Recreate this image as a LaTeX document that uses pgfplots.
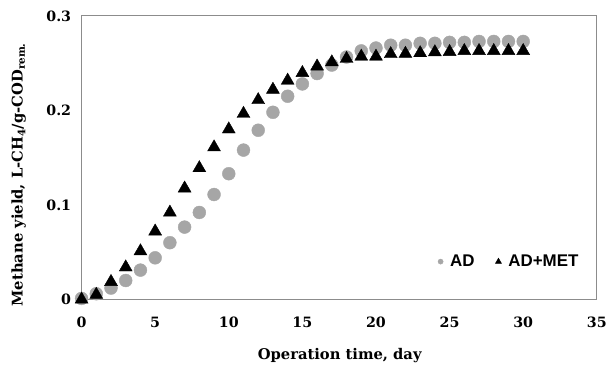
\documentclass[border=0pt]{standalone}
\usepackage{fontspec}
\setmainfont{DejaVu Serif}
\newfontfamily\legfont{Liberation Sans}
\usepackage{pgfplots}
\pgfplotsset{compat=1.18}
\definecolor{adgray}{HTML}{A6A6A6}
\definecolor{axgray}{HTML}{8C8C8C}
\pgfplotsset{smallmarklegend/.style={legend image code/.code={\draw[##1] plot coordinates {(0.12cm,0cm)};}}}
\begin{document}
\begin{tikzpicture}
\begin{axis}[
  scale only axis,
  width=518bp, height=285bp,
  xmin=0, xmax=35, ymin=0, ymax=0.3,
  xtick={0,5,...,35}, ytick={0,0.1,0.2,0.3},
  major tick length=0pt,
  axis line style={axgray, line width=0.9bp},
  /pgf/number format/assume math mode=true,
  ticklabel style={font=\fontsize{14.3bp}{16bp}\selectfont\bfseries},
  yticklabel style={/pgf/number format/fixed, xshift=-7bp},
  xticklabel style={yshift=-14bp},
  xlabel={Operation time, day},
  ylabel={Methane yield, L-CH\textsubscript{4}/g-COD\textsubscript{rem.}},
  label style={font=\fontsize{14.8bp}{16bp}\selectfont\bfseries},
  xlabel style={at={(axis description cs:0.501,-0.198)}, anchor=center},
  ylabel style={at={(axis description cs:-0.122,0.44)}, anchor=center},
  clip=false,
  smallmarklegend,
  legend style={at={(axis cs:24.2,0.04)}, anchor=west, draw=none, fill=none,
    legend columns=2, font=\legfont\bfseries\fontsize{17bp}{19bp}\selectfont,
    /tikz/every odd column/.append style={column sep=5bp},
    /tikz/every even column/.append style={column sep=19bp},
    inner sep=0pt},
  legend cell align=left,
]
\addplot[only marks, mark=*, mark size=6.5bp, color=adgray, forget plot] coordinates {
(0,0.001)(1,0.006)(2,0.012)(3,0.020)(4,0.031)(5,0.044)(6,0.060)(7,0.0765)(8,0.092)(9,0.111)(10,0.133)
(11,0.158)(12,0.179)(13,0.198)(14,0.215)(15,0.228)(16,0.239)(17,0.248)(18,0.2565)(19,0.263)(20,0.266)
(21,0.269)(22,0.269)(23,0.271)(24,0.271)(25,0.272)(26,0.272)(27,0.273)(28,0.273)(29,0.273)(30,0.273)};
\addplot[only marks, mark=triangle*, mark size=7.5bp, color=black, forget plot] coordinates {
(0,0.000)(1,0.005)(2,0.0186)(3,0.034)(4,0.051)(5,0.072)(6,0.092)(7,0.1175)(8,0.139)(9,0.161)(10,0.180)
(11,0.1965)(12,0.211)(13,0.222)(14,0.2316)(15,0.2397)(16,0.2466)(17,0.251)(18,0.2547)(19,0.257)(20,0.257)
(21,0.2597)(22,0.260)(23,0.2607)(24,0.2617)(25,0.262)(26,0.263)(27,0.263)(28,0.263)(29,0.263)(30,0.263)};
\addlegendimage{only marks, mark=*, mark size=2.6bp, color=adgray}
\addlegendentry{AD}
\addlegendimage{only marks, mark=triangle*, mark size=3.5bp, color=black}
\addlegendentry{AD+MET}
\end{axis}
\path[use as bounding box] (-82bp,-63bp) rectangle (528bp,301bp);
\end{tikzpicture}
\end{document}
